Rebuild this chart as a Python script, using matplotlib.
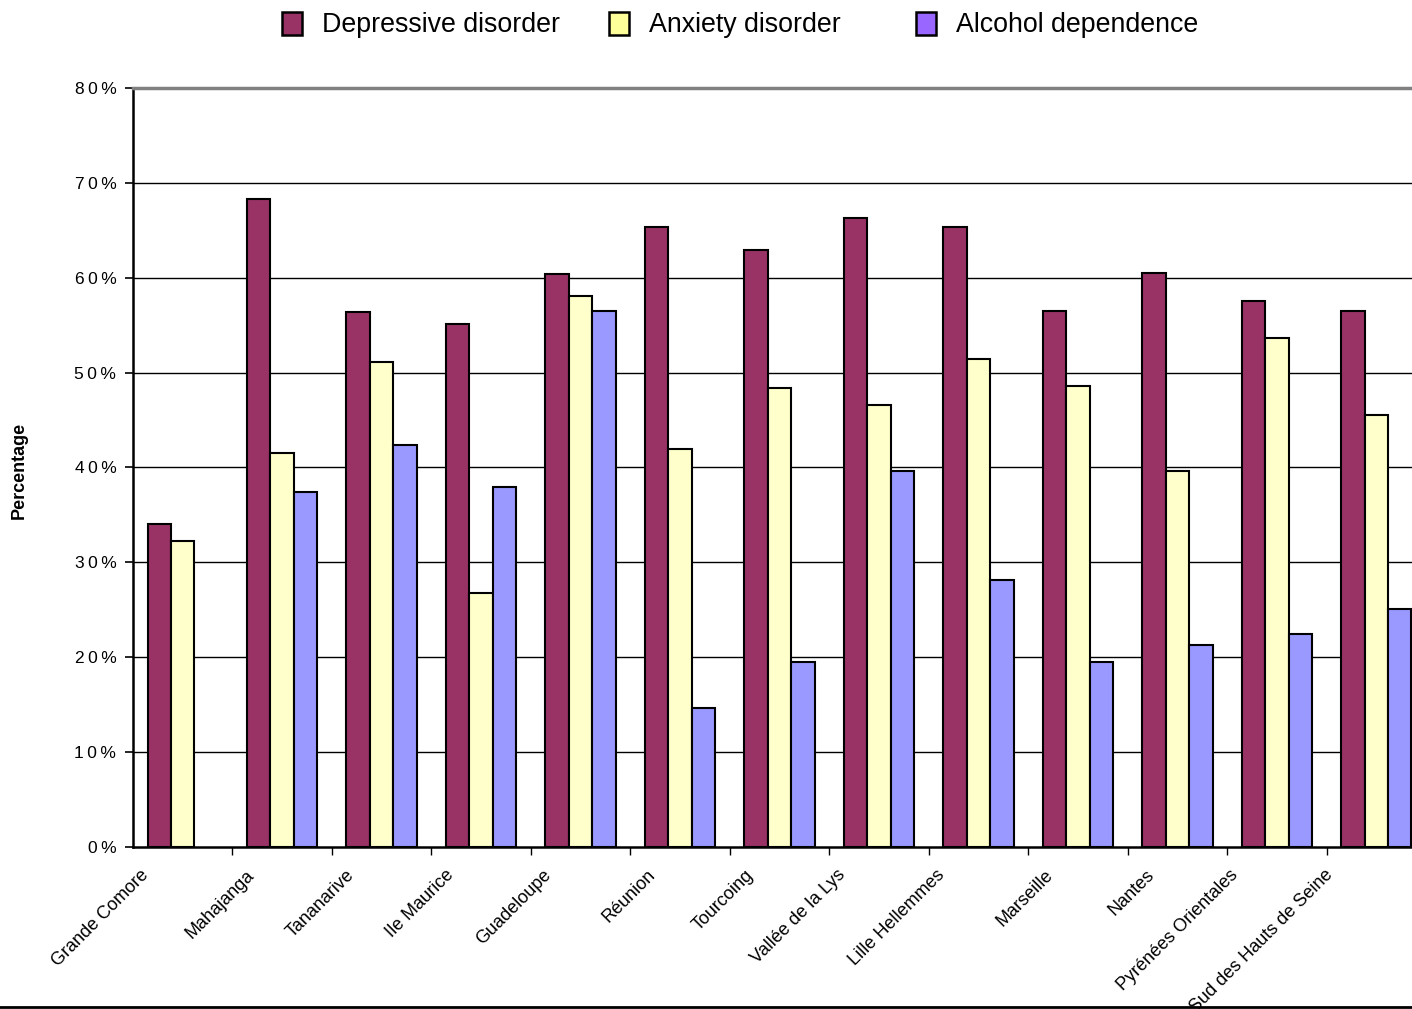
import matplotlib
matplotlib.use("Agg")
import matplotlib.pyplot as plt
from matplotlib.patches import Patch
from matplotlib.lines import Line2D
from matplotlib.font_manager import FontProperties
import numpy as np

plt.rcParams['font.family'] = ['Liberation Sans', 'DejaVu Sans']

sites = ["Grande Comore", "Mahajanga", "Tananarive", "Ile Maurice", "Guadeloupe",
         "Réunion", "Tourcoing", "Vallée de la Lys", "Lille Hellemmes", "Marseille",
         "Nantes", "Pyrénées Orientales", "Sud des Hauts de Seine"]
depressive = [34.0, 68.3, 56.4, 55.1, 60.4, 65.4, 62.9, 66.3, 65.3, 56.5, 60.5, 57.5, 56.5]
anxiety = [32.3, 41.5, 51.1, 26.8, 58.1, 42.0, 48.4, 46.6, 51.4, 48.6, 39.6, 53.7, 45.5]
alcohol = [np.nan, 37.4, 42.4, 37.9, 56.5, 14.6, 19.5, 39.6, 28.1, 19.5, 21.3, 22.5, 25.1]
yticks = [0, 10, 20, 30, 40, 50, 60, 70, 80]

series = [
    ("Depressive disorder", depressive, "#993366", "#993366"),
    ("Anxiety disorder", anxiety, "#FFFFCC", "#FFFF99"),
    ("Alcohol dependence", alcohol, "#9999FF", "#9966FF"),
]

W, H = 1412, 1009
fig = plt.figure(figsize=(W / 100, H / 100), dpi=100)
ax = fig.add_axes([133 / W, 1 - 847 / H, (1426 - 133) / W, (847 - 88) / H])

x = np.arange(len(sites))
bw = 0.236
for i, (name, vals, color, _) in enumerate(series):
    ax.bar(x + (i - 1) * bw, vals, width=bw, color=color, edgecolor="black",
           linewidth=1.5, zorder=3)

ax.set_xlim(-0.5, len(sites) - 0.5)
ax.set_ylim(0, 80)

# y axis
ax.set_yticks(yticks)
ax.set_yticklabels(["\u2009".join(f"{v}%") for v in yticks], fontsize=12.5)
ax.tick_params(axis="y", length=6, width=1.2, pad=6)
for v in yticks[1:-1]:
    ax.axhline(v, color="black", linewidth=1.0, zorder=1)

# x axis: ticks at category boundaries, slanted labels near category centres;
# longer labels sit further to the left
ax.set_xticks(np.arange(len(sites)) + 0.5)
ax.set_xticklabels([])
ax.tick_params(axis="x", length=6, width=1.0)
label_size = 13
renderer = fig.canvas.get_renderer()
prop = FontProperties(family=['Liberation Sans', 'DejaVu Sans'], size=label_size)
px_to_pt = 72 / fig.dpi
for xi, name in zip(x, sites):
    width_px, _, _ = renderer.get_text_width_height_descent(name, prop, ismath=False)
    dx_px = -17 - 0.15 * width_px
    ax.annotate(name, xy=(xi, 0), xycoords=("data", "axes fraction"),
                xytext=(dx_px * px_to_pt, -18.5), textcoords="offset points",
                rotation=45, rotation_mode="anchor", ha="right", va="center",
                fontsize=label_size, annotation_clip=False)

for side in ("left", "bottom"):
    ax.spines[side].set_color("black")
    ax.spines[side].set_linewidth(1.8)
ax.spines["top"].set_color("#808080")
ax.spines["top"].set_linewidth(2.5)
ax.spines["right"].set_visible(False)

fig.text(19 / W, 1 - 470 / H, "Percentage", rotation=90, ha="center", va="center",
         fontsize=13, fontweight="bold")

# legend entries, placed individually across the top
legend_x = [282, 609, 916]
for (name, _, _, lcolor), lx in zip(series, legend_x):
    handle = Patch(facecolor=lcolor, edgecolor="black", linewidth=1.8)
    fig.legend(handles=[handle], labels=[name], loc="center left",
               bbox_to_anchor=(lx / W, 1 - 25 / H), frameon=False,
               fontsize=19.3, handlelength=0.75, handleheight=0.95,
               handletextpad=0.75, borderpad=0, borderaxespad=0)

fig.add_artist(Line2D([0, 1], [1 - 1007 / H, 1 - 1007 / H], transform=fig.transFigure,
                      color="black", linewidth=2))

fig.savefig("out.png", dpi=100)
